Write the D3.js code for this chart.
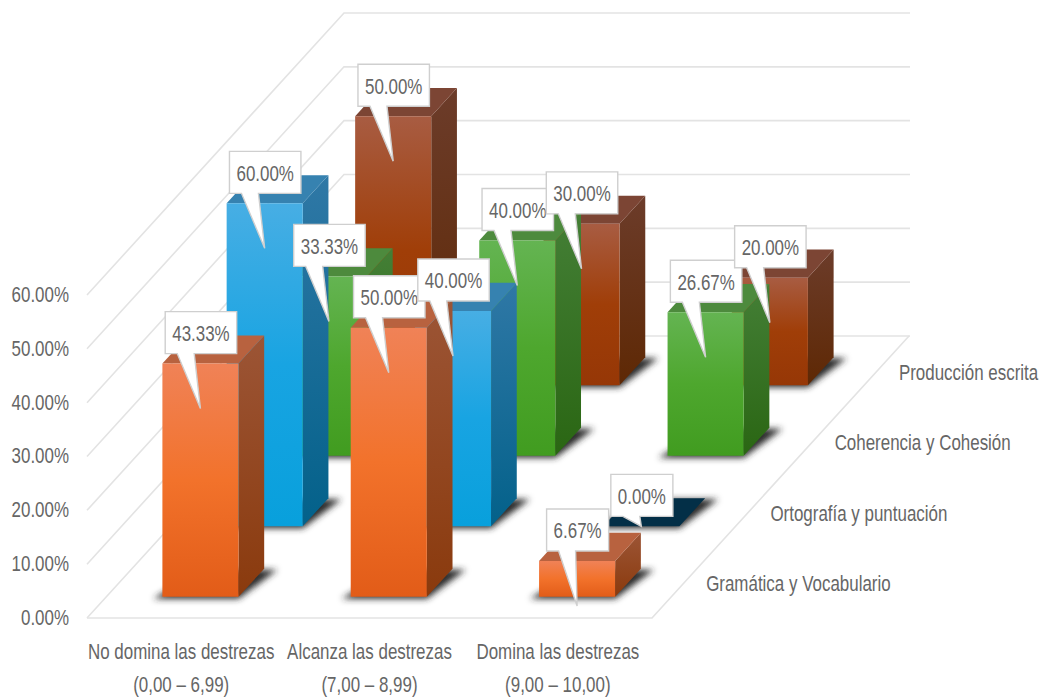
<!DOCTYPE html>
<html>
<head>
<meta charset="utf-8">
<script src="https://d3js.org/d3.v7.min.js"></script>
<style>
  html, body { margin: 0; background: #fff; }
  text { font-family: "Liberation Sans", sans-serif; font-size: 22px; fill: #666; }
</style>
</head>
<body>
<div id="chart"></div>
<script>
const categories = ['No domina las destrezas', 'Alcanza las destrezas', 'Domina las destrezas'];
const categoryRanges = ['(0,00 – 6,99)', '(7,00 – 8,99)', '(9,00 – 10,00)'];
const seriesNames = ['Gramática y Vocabulario', 'Ortografía y puntuación', 'Coherencia y Cohesión', 'Producción escrita'];
const gramatica = [43.33, 50, 6.67];
const ortografia = [60, 40, 0];
const coherencia = [33.33, 40, 26.67];
const produccion = [50, 30, 20];
const seriesValues = [gramatica, ortografia, coherencia, produccion];
const valueTicks = [0, 10, 20, 30, 40, 50, 60];

// front, side and top face colours per series
const palette = [
  { front: ['#f08257', '#f2722b', '#e25c18'], side: ['#9c5536', '#8a3a0d'], top: '#b8623f' },
  { front: ['#47aee4', '#18a4e2', '#08a0dc'], side: ['#2f78a6', '#03618a'], top: '#3682b0' },
  { front: ['#64b452', '#4ea72e', '#419c20'], side: ['#447f36', '#2a6613'], top: '#4d8a3d' },
  { front: ['#a85c42', '#a03e08', '#963706'], side: ['#6c3c2a', '#5e2804'], top: '#7c4534' }
];

const width = 1042;
const height = 700;
const floorX = 87;
const floorY = 618;
const floorWidth = 565;
const skewX = 257;
const skewY = 282;
const narrow = 0.77;

const svg = d3.select('#chart').append('svg')
  .attr('width', width)
  .attr('height', height)
  .style('display', 'block');

const xScale = d3.scaleBand().domain(d3.range(categories.length)).range([0, floorWidth]).paddingInner(0.596).paddingOuter(0.298);
const depthScale = d3.scaleBand().domain(d3.range(seriesNames.length)).range([0, 1]).paddingInner(0.6).paddingOuter(0.3);
const valueScale = d3.scaleLinear().domain([0, 60]).range([0, 323]);

// u along the floor front, d from front to back wall (0-1), h up in pixels
const project = (u, d, h) => [floorX + u + d * skewX, floorY - d * skewY - h];
const poly = points => 'M' + points.map(p => p.join(',')).join('L') + 'Z';

// the original font is a narrow one, so squeeze the glyphs
function squeeze(selection) {
  selection.each(function () {
    d3.select(this)
      .attr('textLength', this.getComputedTextLength() * narrow)
      .attr('lengthAdjust', 'spacingAndGlyphs');
  });
}

const defs = svg.append('defs');
defs.append('filter').attr('id', 'floorShadow')
  .attr('x', '-30%').attr('y', '-30%').attr('width', '160%').attr('height', '160%')
  .append('feGaussianBlur').attr('stdDeviation', 3);

function addGradient(id, stops) {
  const gradient = defs.append('linearGradient').attr('id', id)
    .attr('x1', 0).attr('y1', 0).attr('x2', 0).attr('y2', 1);
  stops.forEach((color, i) => {
    gradient.append('stop').attr('offset', i / (stops.length - 1)).attr('stop-color', color);
  });
}
palette.forEach((p, i) => {
  addGradient(`front${i}`, p.front);
  addGradient(`side${i}`, p.side);
});

// walls and floor
const gridColor = '#e3e3e3';
const grid = svg.append('g').attr('fill', 'none').attr('stroke', gridColor).attr('stroke-width', 1.6);
valueTicks.forEach(t => {
  const h = valueScale(t);
  const a = project(0, 0, h);
  const b = project(0, 1, h);
  const c = project(floorWidth + 1, 1, h);
  grid.append('path').attr('d', `M${a}L${b}L${c}`);
});
grid.append('path').attr('d', `M${project(0, 0, 0)}L${project(floorWidth, 0, 0)}L${project(floorWidth, 1, 0)}`);

// value axis
const valueAxis = d3.axisLeft(d3.scaleLinear().domain([0, 60]).range([floorY, floorY - 323]))
  .tickValues(valueTicks)
  .tickSize(0)
  .tickFormat(d => d3.format('.2f')(d) + '%');
svg.append('g')
  .attr('transform', 'translate(69,-1)')
  .call(valueAxis)
  .call(g => g.select('.domain').remove())
  .attr('font-size', null)
  .attr('font-family', null)
  .selectAll('text')
  .attr('x', 0)
  .attr('dy', '0.34em')
  .attr('fill', null)
  .call(squeeze);

// category axis, the score range goes on a second line
const categoryAxis = d3.axisBottom(d3.scaleBand().domain(d3.range(categories.length)).range([floorX, floorX + floorWidth]))
  .tickSize(0)
  .tickFormat(i => categories[i]);
svg.append('g')
  .attr('transform', 'translate(0,652)')
  .call(categoryAxis)
  .call(g => g.select('.domain').remove())
  .attr('font-size', null)
  .attr('font-family', null)
  .call(g => g.selectAll('.tick').append('text')
    .attr('y', 33)
    .attr('text-anchor', 'middle')
    .text(i => categoryRanges[i]))
  .selectAll('text')
  .attr('dy', '0.34em')
  .attr('fill', null)
  .call(g => g.filter((d, i) => i % 2 === 0).attr('y', 0))
  .call(squeeze);

// series names on the floor edge
svg.append('g').selectAll('text')
  .data(seriesNames)
  .join('text')
  .attr('x', (d, i) => project(floorWidth, depthScale(i) + depthScale.bandwidth() / 2, 0)[0] + 22)
  .attr('y', (d, i) => project(floorWidth, depthScale(i) + depthScale.bandwidth() / 2, 0)[1] + 1)
  .attr('dy', '0.34em')
  .text(d => d)
  .call(squeeze);

// flat list of bars, back row first, left to right
const bars = [];
seriesValues.forEach((values, s) => {
  values.forEach((value, c) => bars.push({ s, c, value }));
});
const drawOrder = bars.slice().sort((a, b) => d3.descending(a.s, b.s) || d3.ascending(a.c, b.c));

const barGroup = svg.append('g');
drawOrder.forEach(bar => {
  const g = barGroup.append('g');
  const x0 = xScale(bar.c);
  const x1 = x0 + xScale.bandwidth();
  const d0 = depthScale(bar.s);
  const d1 = d0 + depthScale.bandwidth();
  const h = valueScale(bar.value);

  const fl = project(x0, d0, 0);
  const fr = project(x1, d0, 0);
  const br = project(x1, d1, 0);
  const bl = project(x0, d1, 0);

  g.append('path')
    .attr('d', poly([[fl[0] - 9, fl[1] + 2], [fr[0], fr[1] + 2], [br[0] + 13, br[1] + 1], [bl[0] + 13, bl[1] + 1]]))
    .attr('fill', '#2a2a2a')
    .attr('filter', 'url(#floorShadow)');

  if (bar.value === 0) {
    g.append('path').attr('d', poly([fl, fr, br, bl])).attr('fill', '#032f47');
    return;
  }

  g.append('path')
    .attr('d', poly([project(x1, d0, h), project(x1, d1, h), br, fr]))
    .attr('fill', `url(#side${bar.s})`);
  g.append('path')
    .attr('d', poly([project(x0, d0, h), project(x1, d0, h), project(x1, d1, h), project(x0, d1, h)]))
    .attr('fill', palette[bar.s].top);
  g.append('path')
    .attr('d', poly([project(x0, d0, h), project(x1, d0, h), fr, fl]))
    .attr('fill', `url(#front${bar.s})`);
});

// callouts, front row first so that back rows lie on top
const labelGroup = svg.append('g');
bars.forEach(bar => {
  const d0 = depthScale(bar.s);
  const center = xScale(bar.c) + xScale.bandwidth() / 2;
  const top = project(center, d0, valueScale(bar.value));
  const g = labelGroup.append('g');
  const box = g.append('path');
  const text = g.append('text')
    .attr('text-anchor', 'middle')
    .attr('x', top[0] + 0.5)
    .attr('y', top[1] - 30)
    .attr('dy', '0.34em')
    .text(d3.format('.2f')(bar.value) + '%');

  const half = text.node().getComputedTextLength() * narrow / 2 + 7;
  text.call(squeeze);
  const left = top[0] + 0.5 - half;
  const right = top[0] + 0.5 + half;
  const boxTop = top[1] - 52;
  const boxBottom = top[1] - 10;
  const tipY = bar.value === 0 ? top[1] : top[1] + 45;
  box.attr('d', poly([
    [left, boxTop], [right, boxTop], [right, boxBottom],
    [left + 29, boxBottom], [top[0], tipY], [left + 12, boxBottom], [left, boxBottom]
  ]))
    .attr('fill', '#fff')
    .attr('stroke', '#cfcfcf')
    .attr('stroke-width', 1.4);
});
</script>
</body>
</html>
